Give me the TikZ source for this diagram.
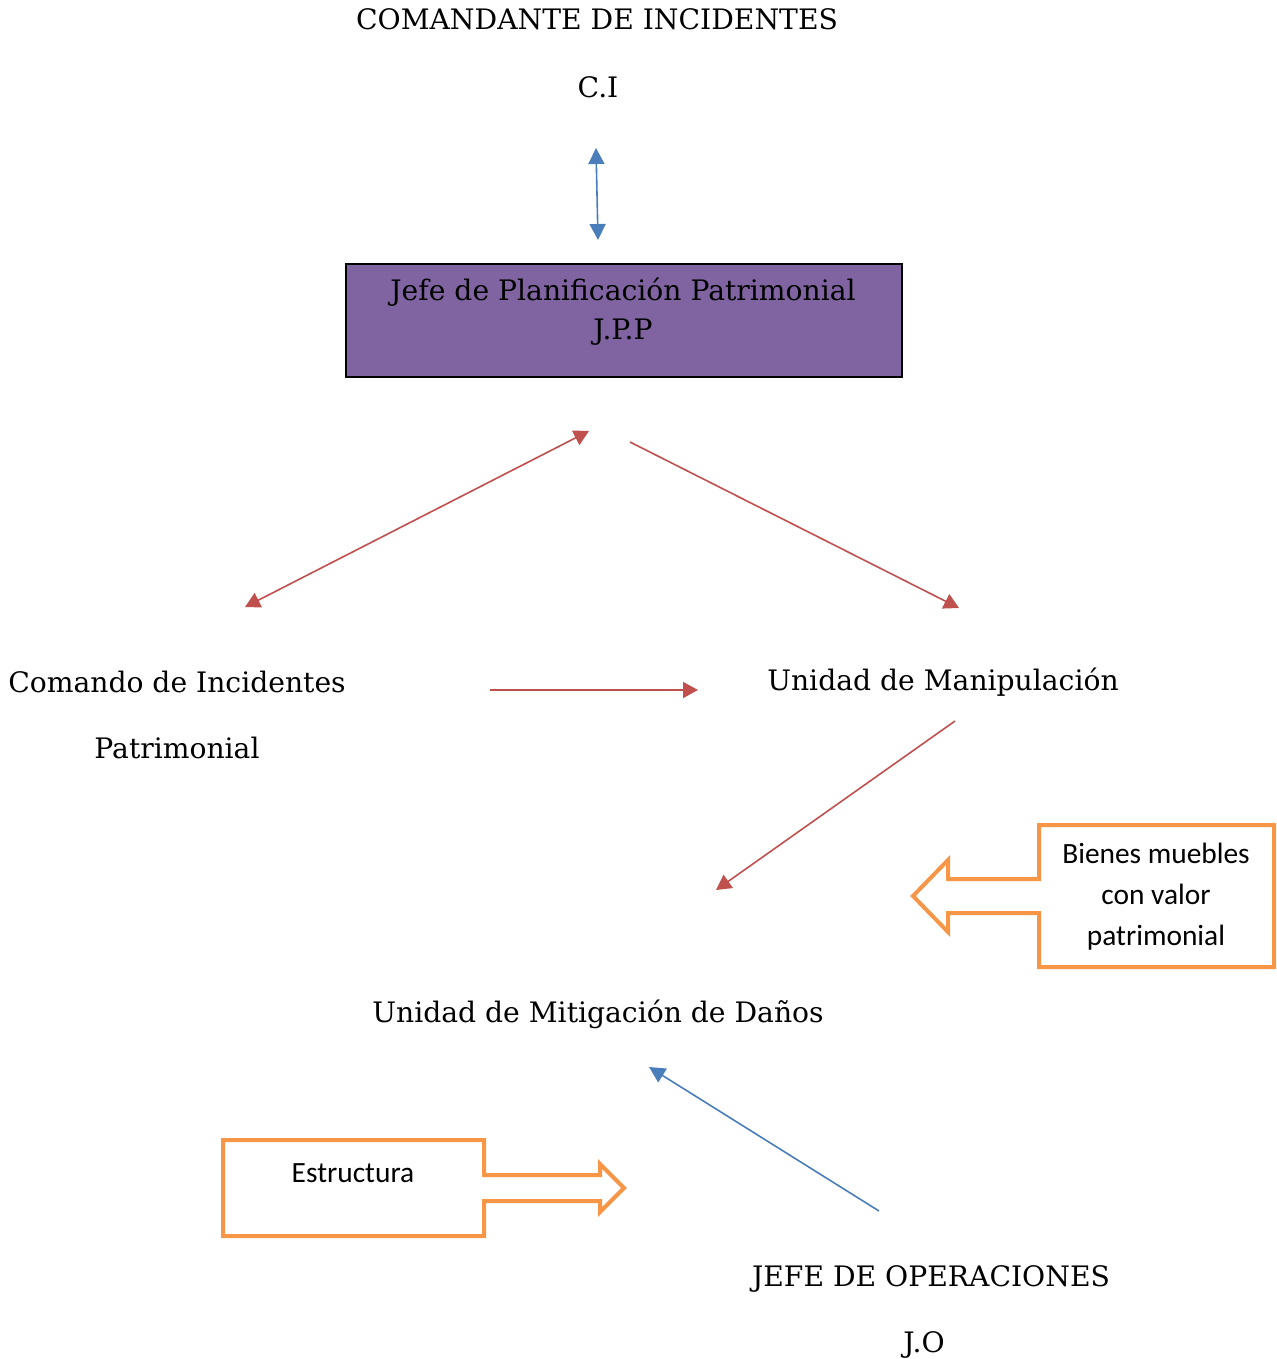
\documentclass[tikz,border=0pt]{standalone}
\usepackage{fontspec}
\setmainfont{DejaVu Serif}
\newfontfamily\calfont{Carlito}
\usetikzlibrary{arrows.meta}
\definecolor{obl}{HTML}{4A7EBB}
\definecolor{ored}{HTML}{C0504D}
\definecolor{oorg}{HTML}{F79646}
\definecolor{opur}{HTML}{8064A2}
\tikzset{
  lbl/.style={inner sep=0pt, font=\fontsize{14.1}{16}\selectfont, text=black},
  call/.style={inner sep=0pt, font=\calfont\fontsize{14.7}{20.5}\selectfont, align=center},
  redarr/.style={draw=ored, line width=0.8pt, -{Triangle[width=8pt,length=7.5pt]}},
  bluearr/.style={draw=obl, line width=0.8pt, -{Triangle[width=8pt,length=8pt]}},
  orgshape/.style={draw=oorg, line width=2pt, line join=miter},
}
\begin{document}
\begin{tikzpicture}[x=0.5pt,y=-0.5pt]
\useasboundingbox (0,0) rectangle (1277,1359);
% texts
\node[lbl] (ci) at (597,19) {COMANDANTE DE INCIDENTES};
\node[lbl] (cia) at (598,87) {C.I};
\node[draw=black, line width=1pt, fill=opur, minimum width=278pt, minimum height=56.5pt, inner sep=0pt] (jpp) at (624,320.5) {};
\node[lbl] (jppa) at (623,292) {Jefe de Planificación Patrimonial};
\node[lbl] (jppb) at (623,332) {J.P.P};
\node[lbl] (cip1) at (177,682) {Comando de Incidentes};
\node[lbl] (cip2) at (177,748) {Patrimonial};
\node[lbl] (um) at (943,682) {Unidad de Manipulación};
\node[lbl] (umd) at (598,1014) {Unidad de Mitigación de Daños};
\node[lbl] (jo) at (931,1279) {JEFE DE OPERACIONES};
\node[lbl] (joa) at (924,1345) {J.O};
% connector endpoints
\coordinate (b1) at (596,148);
\coordinate (b2) at (598,240);
\coordinate (l1) at (589,431);
\coordinate (l2) at (245,607);
\coordinate (r1) at (630,442);
\coordinate (r2) at (959,608);
\coordinate (h1) at (490,690);
\coordinate (h2) at (698,690);
\coordinate (d1) at (955,721);
\coordinate (d2) at (716,890);
\coordinate (j1) at (879,1211);
\coordinate (j2) at (649,1067);
\draw[bluearr, {Triangle[width=8pt,length=8pt]}-{Triangle[width=8pt,length=8pt]}] (b1) -- (b2);
\draw[redarr, {Triangle[width=8pt,length=7.5pt]}-{Triangle[width=8pt,length=7.5pt]}] (l1) -- (l2);
\draw[redarr] (r1) -- (r2);
\draw[redarr] (h1) -- (h2);
\draw[redarr] (d1) -- (d2);
\draw[bluearr] (j1) -- (j2);
% left-pointing callout
\draw[orgshape] (1039,825) -- (1274,825) -- (1274,967) -- (1039,967) -- (1039,913)
  -- (948,913) -- (948,932) -- (913,896) -- (948,860) -- (948,879) -- (1039,879) -- cycle;
\node[call] (bm) at (1156,897) {Bienes muebles\\con valor\\patrimonial};
% right-pointing callout
\draw[orgshape] (223,1140) -- (484,1140) -- (484,1175) -- (600,1175) -- (600,1164)
  -- (624,1188) -- (600,1212) -- (600,1201) -- (484,1201) -- (484,1236) -- (223,1236) -- cycle;
\node[call] (es) at (353,1173) {Estructura};
\end{tikzpicture}
\end{document}
